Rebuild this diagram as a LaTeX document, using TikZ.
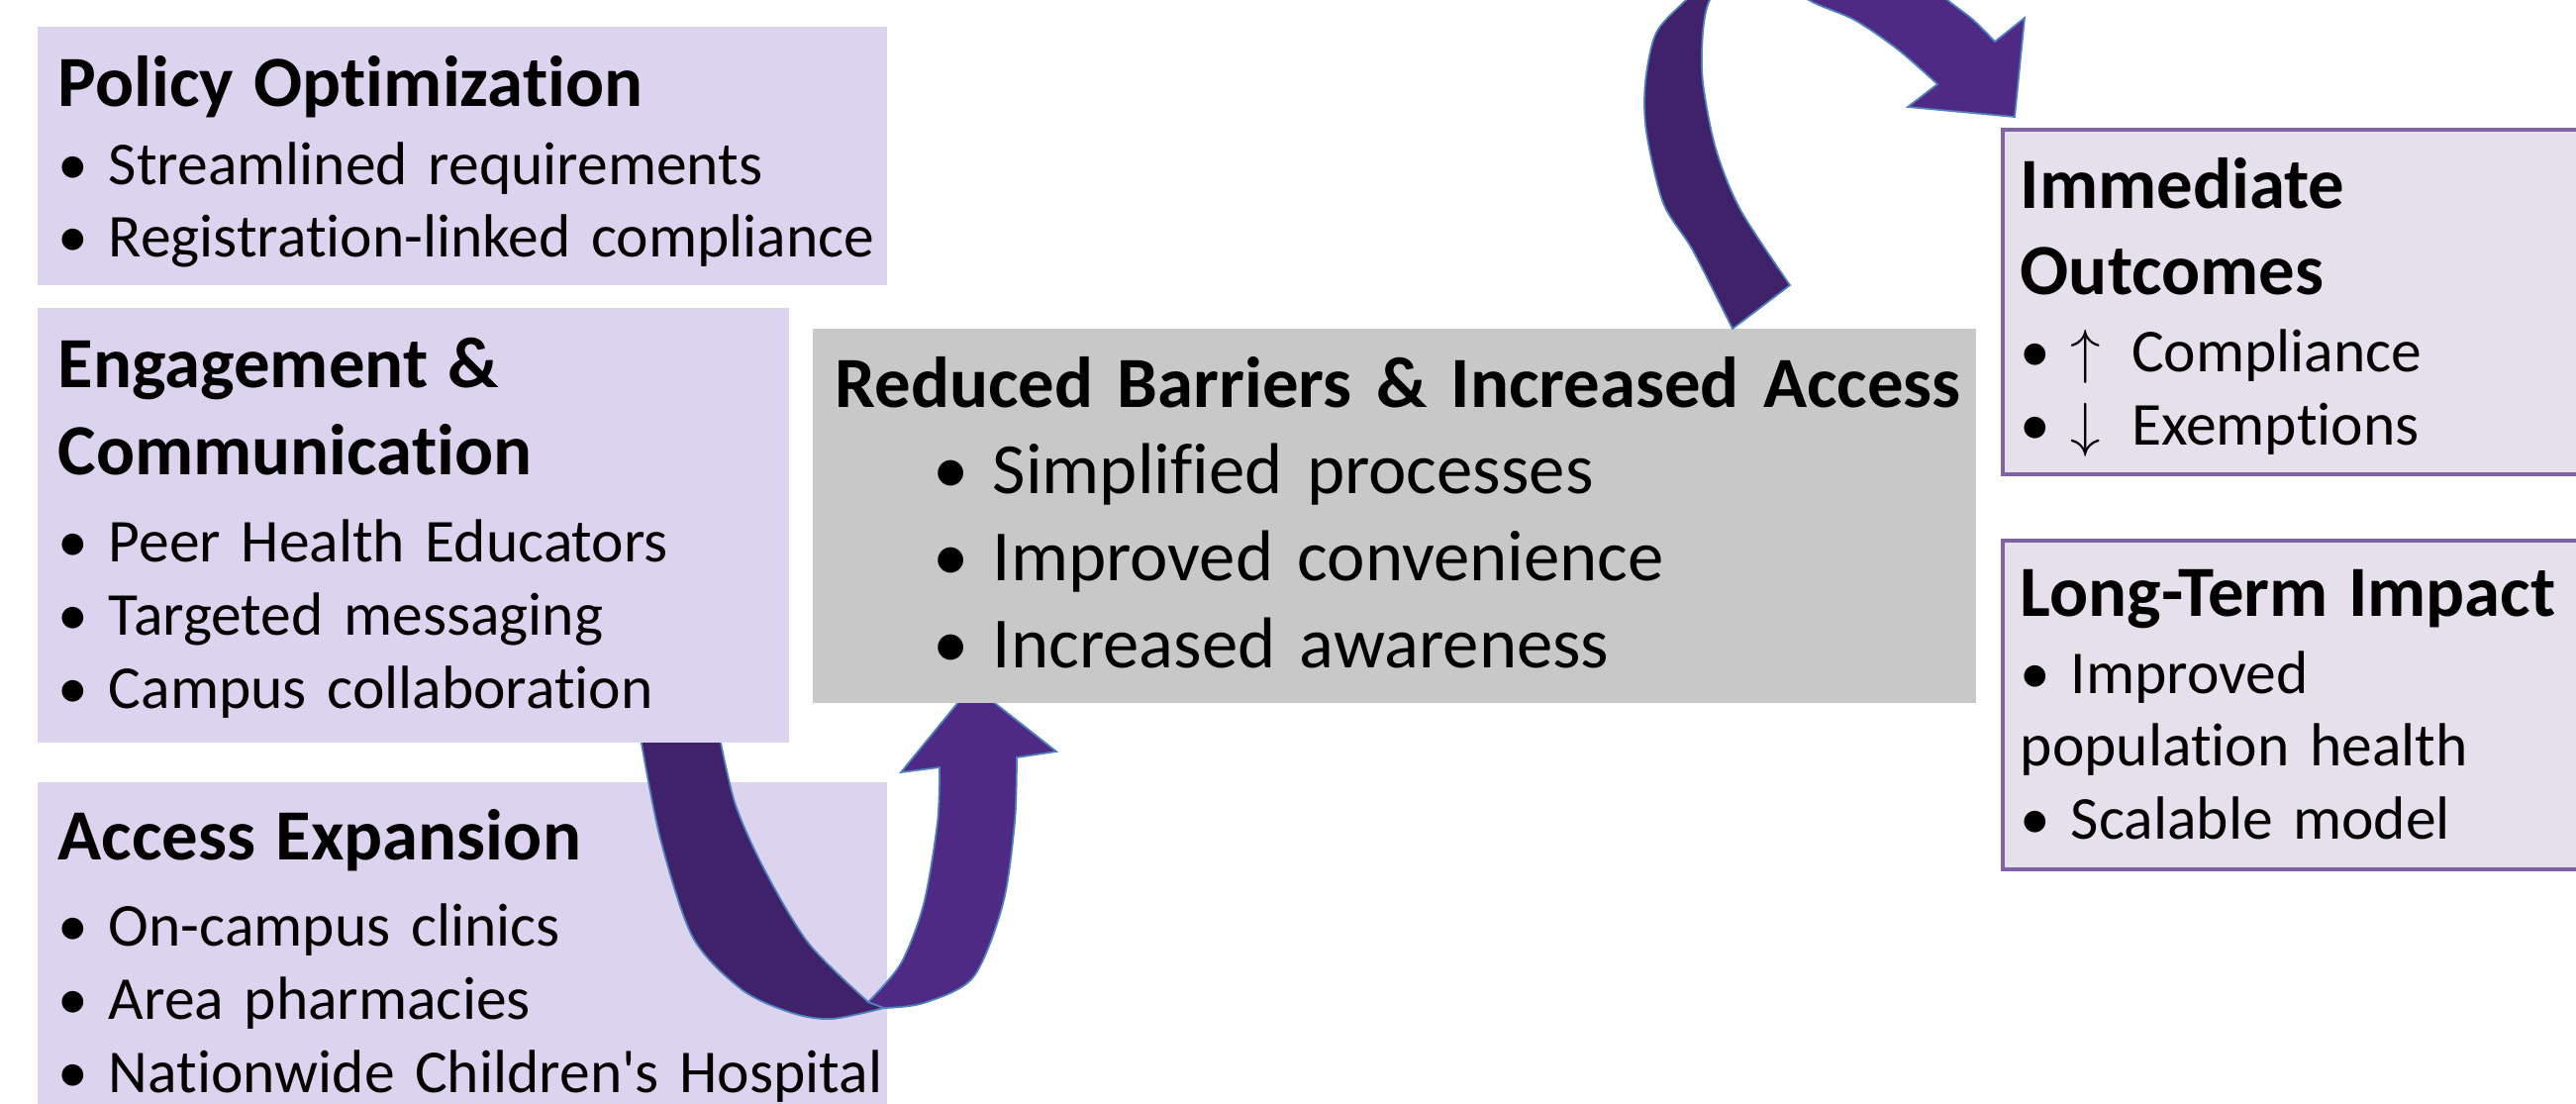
\documentclass[tikz,border=0pt]{standalone}
\usepackage{fontspec}
\setmainfont{Carlito}[Ligatures={TeX,NoCommon}, Contextuals=NoAlternate]
\usetikzlibrary{fit}

\definecolor{lavender}{HTML}{DCD3EE}
\definecolor{panelgray}{HTML}{C8C8C8}
\definecolor{outfill}{HTML}{E5E0EC}
\definecolor{outline}{HTML}{8064A2}
\definecolor{ribbondark}{HTML}{40226A}
\definecolor{ribbonlight}{HTML}{4E2A84}
\definecolor{ribbonedge}{HTML}{4F81BD}

\newcommand{\boxhead}{\fontsize{20.7}{21}\selectfont\bfseries}

\tikzset{
  lbox/.style={fill=lavender, inner sep=0pt},
  gbox/.style={fill=panelgray, inner sep=0pt},
  obox/.style={fill=outfill, draw=outline, line width=1.4pt, inner sep=0pt},
  txt/.style={anchor=base west, align=left, inner sep=0pt, text width=9cm,
    font=\fontsize{17.5}{21}\selectfont},
  bigtxt/.style={txt, text width=12cm, font=\fontsize{20.7}{25}\selectfont},
  band/.style={draw=ribbonedge, line width=0.5pt}
}

\begin{document}
\begin{tikzpicture}[x=0.01cm, y=-0.01cm]
  \useasboundingbox (0,0) rectangle (2602,1114);
  \clip (0,0) rectangle (2602,1114);

  % access box first, the lower ribbon lies on it
  \node[lbox, fit={(38,790) (896,1130)}] (access) {};
  \path[band, fill=ribbondark] plot[smooth] coordinates {(647,745) (667,847) (700,947) (750,1000) (800,1023) (840,1029) (893,1018)}
    -- (877,1012) -- plot[smooth] coordinates {(877,1012) (817,953) (773,880) (743,813) (727,745)} -- cycle;
  \path[band, fill=ribbonlight] plot[smooth] coordinates {(877,1012) (910,973) (933,913) (947,830) (949,775)}
    -- (910,780) -- (982,692) -- (1067,759) -- (1027,765)
    -- plot[smooth] coordinates {(1027,765) (1025,830) (1013,913) (983,987) (933,1013) (893,1018)} -- cycle;

  \node[lbox, fit={(38,27) (896,288)}] (policy) {};
  \node[lbox, fit={(38,311) (797,750)}] (engage) {};
  \node[gbox, fit={(821,332) (1996,710)}] (barriers) {};
  \node[obox, fit={(2023,131) (2640,479)}] (immediate) {};
  \node[obox, fit={(2023,546) (2640,878)}] (longterm) {};

  % upper ribbon
  \path[band, fill=ribbondark] plot[smooth] coordinates {(1750,332) (1710,253) (1680,205) (1663,133) (1662,83) (1673,33) (1703,0) (1730,-25)}
    -- plot[smooth] coordinates {(1750,-25) (1727,0) (1720,33) (1720,83) (1733,150) (1758,212) (1808,288)} -- cycle;
  \path[band, fill=ribbonlight] plot[smooth] coordinates {(1790,-30) (1827,0) (1873,20) (1917,50) (1957,85)}
    -- (1927,108) -- (2035,118) -- (2045,18) -- (2015,42)
    -- plot[smooth] coordinates {(2015,42) (1993,20) (1967,0) (1930,-30)} -- cycle;

  \node[txt] (policy-txt) at (58,107) {{\boxhead Policy Optimization}\\[1.5pt]
    \textbullet\ Streamlined requirements\\
    \textbullet\ Registration-linked compliance};
  \node[txt] (engage-txt) at (58,391) {{\boxhead Engagement \&}\\[4.3pt]
    {\boxhead Communication}\\[4pt]
    \textbullet\ Peer Health Educators\\
    \textbullet\ Targeted messaging\\
    \textbullet\ Campus collaboration};
  \node[txt] (access-txt) at (58,868) {{\boxhead Access Expansion}\\[4pt]
    \textbullet\ On-campus clinics\\
    \textbullet\ Area pharmacies\\
    \textbullet\ Nationwide Children\textquotesingle s Hospital};
  \node[bigtxt] (barriers-txt) at (843,411) {{\bfseries Reduced Barriers \& Increased Access}\\
    \hspace*{28pt}\textbullet\ Simplified processes\\
    \hspace*{28pt}\textbullet\ Improved convenience\\
    \hspace*{28pt}\textbullet\ Increased awareness};
  \node[txt] (immediate-txt) at (2040,210) {{\boxhead Immediate}\\[4pt]
    {\boxhead Outcomes}\\[1pt]
    \textbullet\ $\uparrow$ \,Compliance\\
    \textbullet\ $\downarrow$ \,Exemptions};
  \node[txt] (longterm-txt) at (2040,622) {{\boxhead Long-Term Impact}\\[1.2pt]
    \textbullet\ Improved\\
    population health\\
    \textbullet\ Scalable model};
\end{tikzpicture}
\end{document}
